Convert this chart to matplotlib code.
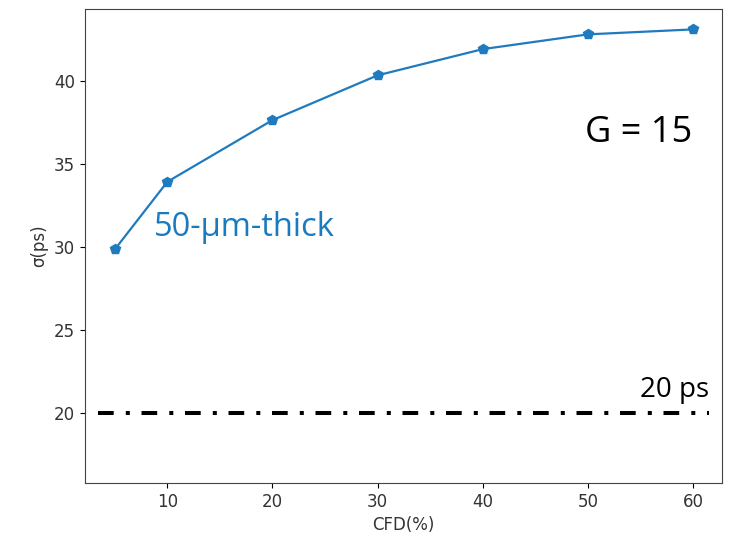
import matplotlib
matplotlib.use('Agg')
import matplotlib.pyplot as plt

# 数据
cfd = [5, 10, 20, 30, 40, 50, 60]
sigma = [29.85, 33.93, 37.65, 40.35, 41.93, 42.82, 43.12]
ref_x = [3.4, 61.5]
ref_y = [20, 20]

fig, ax = plt.subplots(figsize=(7.32, 5.39), dpi=100)
fig.subplots_adjust(left=0.116, right=0.987, top=0.983, bottom=0.104)

ax.plot(cfd, sigma, color='#1f7bbf', marker='p', markersize=7, linewidth=1.6)

# 20 ps 参考线（点划线）
ax.plot(ref_x, ref_y, color='black', linewidth=2.9,
        dashes=(3.9, 3.0, 1.0, 2.9), dash_capstyle='butt')

ax.set_xlim(2.16, 62.8)
ax.set_ylim(15.77, 44.34)
ax.set_xticks([10, 20, 30, 40, 50, 60])
ax.set_yticks([20, 25, 30, 35, 40])
ax.tick_params(labelsize=12, labelcolor='#333333')
ax.set_xlabel('CFD(%)', fontsize=12, color='#333333')
ax.set_ylabel('σ(ps)', fontsize=12, color='#333333')
for s in ax.spines.values():
    s.set_color('#444444')

ax.text(8.7, 30.66, '50-μm-thick', color='#1a7abf', fontsize=23.5,
        family=['Open Sans', 'DejaVu Sans'], ha='left', va='baseline')
ax.text(54.8, 36.9, 'G = 15', color='black', fontsize=26,
        family=['Open Sans', 'DejaVu Sans'], ha='center', va='center')
ax.text(61.5, 20.95, '20 ps', color='black', fontsize=20,
        family=['Open Sans', 'DejaVu Sans'], ha='right', va='baseline')

fig.savefig('out.png', dpi=100)
